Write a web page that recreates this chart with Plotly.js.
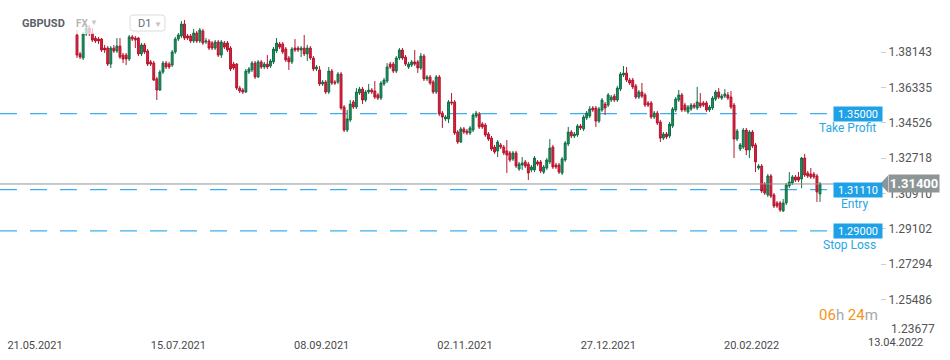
<!DOCTYPE html>
<html>
<head>
<meta charset="utf-8">
<script src="https://cdn.plot.ly/plotly-3.0.1.min.js"></script>
<style>html,body{margin:0;padding:0;background:#fff;}#chart{width:950px;height:360px;}</style>
</head>
<body>
<div id="chart"></div>
<script>
// GBPUSD D1 candles
const open = [1.3903,1.3806,1.3785,1.3908,1.3939,1.3913,1.3887,1.3882,1.3882,1.3836,1.3836,1.3754,1.3836,1.3821,1.3846,1.3800,1.3800,1.3780,1.3893,1.3887,
1.3887,1.3806,1.3852,1.3821,1.3765,1.3759,1.3678,1.3621,1.3713,1.3759,1.3754,1.3749,1.3816,1.3882,1.3898,1.3959,1.3898,1.3898,1.3872,1.3913,
1.3872,1.3923,1.3867,1.3872,1.3862,1.3836,1.3867,1.3800,1.3862,1.3862,1.3836,1.3754,1.3754,1.3631,1.3621,1.3611,1.3713,1.3724,1.3759,1.3688,
1.3765,1.3739,1.3754,1.3744,1.3765,1.3821,1.3857,1.3857,1.3831,1.3785,1.3765,1.3836,1.3836,1.3826,1.3836,1.3806,1.3836,1.3785,1.3729,1.3724,
1.3652,1.3662,1.3611,1.3718,1.3662,1.3662,1.3703,1.3534,1.3416,1.3468,1.3560,1.3534,1.3606,1.3626,1.3570,1.3611,1.3621,1.3616,1.3596,1.3580,
1.3652,1.3667,1.3754,1.3754,1.3718,1.3785,1.3826,1.3790,1.3739,1.3749,1.3765,1.3765,1.3734,1.3795,1.3678,1.3688,1.3662,1.3611,1.3688,1.3503,
1.3473,1.3473,1.3560,1.3560,1.3406,1.3355,1.3422,1.3411,1.3401,1.3416,1.3488,1.3498,1.3447,1.3442,1.3396,1.3375,1.3329,1.3309,1.3340,1.3329,
1.3309,1.3299,1.3268,1.3299,1.3217,1.3237,1.3253,1.3242,1.3212,1.3212,1.3253,1.3253,1.3201,1.3222,1.3253,1.3329,1.3237,1.3237,1.3196,1.3263,
1.3345,1.3406,1.3386,1.3391,1.3437,1.3422,1.3478,1.3488,1.3529,1.3529,1.3462,1.3519,1.3549,1.3544,1.3570,1.3590,1.3570,1.3626,1.3698,1.3708,
1.3672,1.3672,1.3642,1.3585,1.3611,1.3596,1.3555,1.3555,1.3483,1.3503,1.3457,1.3375,1.3396,1.3386,1.3437,1.3519,1.3570,1.3596,1.3544,1.3509,
1.3524,1.3544,1.3529,1.3555,1.3555,1.3555,1.3519,1.3529,1.3575,1.3611,1.3580,1.3590,1.3596,1.3585,1.3544,1.3370,1.3319,1.3329,1.3416,1.3314,
1.3406,1.3340,1.3222,1.3232,1.3140,1.3084,1.3181,1.3084,1.3043,1.3043,1.3002,1.3043,1.3130,1.3145,1.3176,1.3176,1.3166,1.3273,1.3196,1.3191,
1.3191,1.3181,1.3089];
const high = [1.3928,1.3816,1.3918,1.3959,1.3954,1.3939,1.3898,1.3893,1.3887,1.3852,1.3846,1.3846,1.3852,1.3887,1.3887,1.3811,1.3811,1.3903,1.3903,1.3898,
1.3893,1.3862,1.3862,1.3831,1.3775,1.3770,1.3688,1.3724,1.3770,1.3770,1.3765,1.3826,1.3893,1.3913,1.3974,1.3980,1.3908,1.3908,1.3934,1.3923,
1.3939,1.3934,1.3887,1.3882,1.3872,1.3877,1.3877,1.3877,1.3872,1.3872,1.3846,1.3765,1.3759,1.3642,1.3631,1.3729,1.3739,1.3770,1.3770,1.3775,
1.3775,1.3765,1.3800,1.3780,1.3841,1.3887,1.3867,1.3867,1.3841,1.3795,1.3841,1.3882,1.3846,1.3846,1.3903,1.3852,1.3846,1.3795,1.3749,1.3744,
1.3672,1.3672,1.3739,1.3729,1.3672,1.3713,1.3713,1.3544,1.3519,1.3570,1.3570,1.3631,1.3637,1.3637,1.3621,1.3652,1.3631,1.3667,1.3606,1.3667,
1.3683,1.3759,1.3765,1.3765,1.3795,1.3836,1.3836,1.3800,1.3765,1.3775,1.3826,1.3775,1.3811,1.3806,1.3698,1.3698,1.3672,1.3698,1.3698,1.3514,
1.3493,1.3570,1.3606,1.3570,1.3416,1.3432,1.3432,1.3422,1.3437,1.3503,1.3514,1.3509,1.3457,1.3452,1.3406,1.3386,1.3340,1.3365,1.3350,1.3340,
1.3365,1.3309,1.3309,1.3309,1.3253,1.3278,1.3263,1.3253,1.3237,1.3283,1.3263,1.3263,1.3237,1.3273,1.3370,1.3340,1.3248,1.3248,1.3278,1.3360,
1.3432,1.3416,1.3406,1.3447,1.3447,1.3493,1.3514,1.3539,1.3539,1.3539,1.3534,1.3580,1.3560,1.3606,1.3596,1.3601,1.3642,1.3713,1.3744,1.3739,
1.3683,1.3683,1.3652,1.3621,1.3657,1.3606,1.3565,1.3565,1.3514,1.3514,1.3468,1.3406,1.3406,1.3457,1.3534,1.3585,1.3621,1.3606,1.3555,1.3544,
1.3555,1.3555,1.3637,1.3606,1.3565,1.3565,1.3544,1.3590,1.3621,1.3631,1.3601,1.3626,1.3611,1.3616,1.3555,1.3422,1.3350,1.3427,1.3427,1.3416,
1.3416,1.3350,1.3242,1.3242,1.3150,1.3191,1.3191,1.3094,1.3053,1.3053,1.3063,1.3145,1.3201,1.3186,1.3186,1.3201,1.3278,1.3294,1.3207,1.3222,
1.3201,1.3191,1.3150];
const low = [1.3785,1.3780,1.3775,1.3898,1.3898,1.3867,1.3862,1.3857,1.3816,1.3811,1.3744,1.3734,1.3811,1.3811,1.3780,1.3759,1.3749,1.3770,1.3872,1.3836,
1.3795,1.3795,1.3806,1.3744,1.3744,1.3667,1.3570,1.3616,1.3703,1.3729,1.3729,1.3739,1.3806,1.3872,1.3887,1.3877,1.3877,1.3862,1.3862,1.3862,
1.3862,1.3852,1.3857,1.3826,1.3826,1.3826,1.3790,1.3785,1.3831,1.3816,1.3718,1.3724,1.3621,1.3606,1.3601,1.3606,1.3703,1.3713,1.3678,1.3683,
1.3729,1.3729,1.3729,1.3734,1.3754,1.3811,1.3831,1.3806,1.3765,1.3724,1.3754,1.3816,1.3816,1.3790,1.3795,1.3770,1.3775,1.3718,1.3718,1.3642,
1.3642,1.3601,1.3601,1.3647,1.3647,1.3652,1.3519,1.3406,1.3406,1.3457,1.3524,1.3524,1.3596,1.3549,1.3560,1.3601,1.3601,1.3575,1.3570,1.3570,
1.3642,1.3657,1.3729,1.3708,1.3708,1.3775,1.3775,1.3744,1.3729,1.3739,1.3744,1.3708,1.3724,1.3667,1.3667,1.3647,1.3601,1.3601,1.3488,1.3427,
1.3462,1.3452,1.3544,1.3391,1.3345,1.3350,1.3396,1.3391,1.3391,1.3406,1.3478,1.3422,1.3422,1.3381,1.3360,1.3309,1.3294,1.3278,1.3319,1.3288,
1.3196,1.3253,1.3258,1.3222,1.3207,1.3212,1.3222,1.3160,1.3201,1.3201,1.3232,1.3196,1.3191,1.3212,1.3242,1.3217,1.3217,1.3191,1.3186,1.3253,
1.3334,1.3375,1.3375,1.3381,1.3416,1.3411,1.3468,1.3478,1.3509,1.3432,1.3452,1.3509,1.3493,1.3534,1.3560,1.3560,1.3560,1.3616,1.3688,1.3662,
1.3647,1.3626,1.3575,1.3575,1.3580,1.3534,1.3534,1.3473,1.3473,1.3442,1.3355,1.3365,1.3370,1.3375,1.3427,1.3509,1.3560,1.3509,1.3509,1.3498,
1.3514,1.3524,1.3519,1.3529,1.3534,1.3509,1.3509,1.3519,1.3565,1.3575,1.3570,1.3580,1.3570,1.3524,1.3273,1.3360,1.3309,1.3319,1.3288,1.3273,
1.3324,1.3201,1.3212,1.3094,1.3084,1.3073,1.3068,1.3017,1.3017,1.2997,1.2997,1.3032,1.3119,1.3135,1.3150,1.3150,1.3119,1.3176,1.3171,1.3166,
1.3166,1.3048,1.3048];
const close = [1.3800,1.3790,1.3908,1.3939,1.3913,1.3877,1.3872,1.3872,1.3826,1.3826,1.3754,1.3836,1.3821,1.3846,1.3790,1.3780,1.3780,1.3893,1.3882,1.3877,
1.3806,1.3852,1.3816,1.3754,1.3754,1.3672,1.3621,1.3713,1.3759,1.3739,1.3739,1.3816,1.3882,1.3903,1.3959,1.3887,1.3887,1.3872,1.3913,1.3872,
1.3928,1.3862,1.3872,1.3836,1.3836,1.3867,1.3800,1.3867,1.3841,1.3826,1.3729,1.3734,1.3631,1.3616,1.3611,1.3718,1.3729,1.3759,1.3688,1.3765,
1.3739,1.3754,1.3739,1.3770,1.3831,1.3862,1.3841,1.3816,1.3775,1.3765,1.3831,1.3826,1.3826,1.3836,1.3806,1.3836,1.3785,1.3729,1.3739,1.3652,
1.3662,1.3611,1.3718,1.3657,1.3657,1.3703,1.3529,1.3416,1.3473,1.3549,1.3534,1.3611,1.3626,1.3570,1.3611,1.3621,1.3611,1.3585,1.3580,1.3657,
1.3672,1.3739,1.3739,1.3718,1.3785,1.3826,1.3785,1.3754,1.3754,1.3765,1.3754,1.3734,1.3795,1.3678,1.3688,1.3657,1.3611,1.3688,1.3498,1.3483,
1.3483,1.3560,1.3555,1.3401,1.3355,1.3422,1.3406,1.3401,1.3427,1.3493,1.3503,1.3432,1.3432,1.3391,1.3370,1.3319,1.3304,1.3355,1.3329,1.3299,
1.3288,1.3263,1.3299,1.3232,1.3242,1.3248,1.3232,1.3196,1.3227,1.3273,1.3242,1.3207,1.3227,1.3263,1.3324,1.3227,1.3227,1.3201,1.3268,1.3350,
1.3406,1.3386,1.3396,1.3437,1.3427,1.3483,1.3503,1.3524,1.3519,1.3462,1.3524,1.3570,1.3529,1.3596,1.3585,1.3570,1.3631,1.3703,1.3708,1.3672,
1.3657,1.3637,1.3585,1.3611,1.3590,1.3544,1.3544,1.3483,1.3503,1.3452,1.3375,1.3396,1.3381,1.3447,1.3524,1.3575,1.3596,1.3519,1.3519,1.3534,
1.3544,1.3534,1.3560,1.3539,1.3544,1.3519,1.3534,1.3580,1.3611,1.3585,1.3590,1.3601,1.3580,1.3534,1.3370,1.3411,1.3340,1.3416,1.3314,1.3406,
1.3334,1.3253,1.3232,1.3104,1.3094,1.3181,1.3078,1.3027,1.3027,1.3007,1.3043,1.3135,1.3150,1.3176,1.3160,1.3160,1.3273,1.3186,1.3181,1.3176,
1.3176,1.3099,1.3140];

const dateLabels = ['21.05.2021','15.07.2021','08.09.2021','02.11.2021','27.12.2021','20.02.2022'];
const lastDateLabel = '13.04.2022';
const priceTicks = [1.25486,1.27294,1.29102,1.30910,1.32718,1.34526,1.36335,1.38143];
const bottomPriceLabel = 1.23677;
const takeProfit = 1.35000;
const entry = 1.31110;
const stopLoss = 1.29000;
const lastPrice = 1.31400;
const symbol = 'GBPUSD';
const timerParts = ['06','h ','24','m'];

// ---- layout helpers (pixel -> paper for decorations) ----
const W = 950, H = 360, M = {l:0, r:70, t:0, b:23};
const PW = W - M.l - M.r, PH = H - M.t - M.b;
const px = v => (v - M.l) / PW;
const py = v => (PH - (v - M.t)) / PH;

const xIdx = open.map((_, i) => i);
const blue = '#1ea1e6';
const font = 'Roboto, "Open Sans", sans-serif';

const trace = {
  type: 'candlestick',
  x: xIdx, open, high, low, close,
  increasing: {line: {color: '#0f6f47', width: 1}, fillcolor: '#1b9160'},
  decreasing: {line: {color: '#b5162e', width: 1}, fillcolor: '#d9213d'},
  whiskerwidth: 0,
  hoverinfo: 'skip'
};

const dashLine = y => ({type:'line', xref:'paper', yref:'y', x0:0, x1:px(829), y0:y, y1:y,
  line:{color:'#3cb0ee', width:1.3, dash:'17px,13px'}, layer:'below'});

const shapes = [
  dashLine(takeProfit), dashLine(entry), dashLine(stopLoss),
  {type:'line', xref:'paper', yref:'y', x0:0, x1:1, y0:lastPrice, y1:lastPrice,
   line:{color:'#8d9597', width:1}, layer:'above'},
  // price tag arrow
  {type:'path', xref:'paper', yref:'y', xsizemode:'pixel', ysizemode:'pixel', xanchor:1, yanchor:lastPrice,
   path:'M 0 0 L 8 8.5 L 8 -8.5 Z', fillcolor:'#8d9597', line:{width:0}, layer:'above'},
  // fade over header
  {type:'rect', xref:'paper', yref:'paper', x0:px(70), x1:px(102), y0:py(34), y1:py(12),
   fillcolor:'rgba(255,255,255,0.72)', line:{width:0}, layer:'above'},
  // D1 box
  {type:'path', xref:'paper', yref:'paper', xsizemode:'pixel', ysizemode:'pixel', xanchor:0, yanchor:1,
   path:'M 133 -15 L 162 -15 Q 165 -15 165 -18 L 165 -28 Q 165 -31 162 -31 L 133 -31 Q 130 -31 130 -28 L 130 -18 Q 130 -15 133 -15 Z',
   fillcolor:'#ffffff', line:{color:'#dcdcdc', width:1}, layer:'above'}
];

const box = (y, txt) => ({xref:'paper', yref:'y', x:px(857.5), y:y, text:txt, showarrow:false,
  bgcolor:blue, font:{family:font, size:11, color:'#ffffff'}, width:47, height:13, borderpad:0.5, xanchor:'center', yanchor:'middle'});
const tag = (y, txt, right) => ({xref:'paper', yref:'y', x:px(right), y:y, yshift:-14, text:txt, showarrow:false,
  font:{family:font, size:12, color:'#2aa6e2'}, xanchor:'right', yanchor:'middle'});

const annotations = [
  box(takeProfit, takeProfit.toFixed(5)), tag(takeProfit, 'Take Profit', 878),
  box(entry, entry.toFixed(5)), tag(entry, 'Entry', 871),
  box(stopLoss, stopLoss.toFixed(5)), tag(stopLoss, 'Stop Loss', 878),
  {xref:'paper', yref:'y', x:1, xshift:8, y:lastPrice, text:'<b>'+lastPrice.toFixed(5)+'</b>', showarrow:false,
   bgcolor:'#8d9597', font:{family:font, size:13, color:'#ffffff'}, xanchor:'left', yanchor:'middle', width:48, height:15, borderpad:1},
  {xref:'paper', yref:'paper', x:px(20), y:py(23), text:'<b>'+symbol+'</b>', showarrow:false, xanchor:'left', yanchor:'middle',
   font:{family:font, size:11, color:'#5b6166'}},
  {xref:'paper', yref:'paper', x:px(74), y:py(23), text:'<b>FX</b>', showarrow:false, xanchor:'left', yanchor:'middle',
   font:{family:font, size:10, color:'#b5b5b5'}},
  {xref:'paper', yref:'paper', x:px(94), y:py(22), text:'▼', showarrow:false, xanchor:'center', yanchor:'middle',
   font:{family:font, size:8, color:'#c8c8c8'}},
  {xref:'paper', yref:'paper', x:px(136), y:py(23), text:'D1', showarrow:false, xanchor:'left', yanchor:'middle',
   font:{family:font, size:11, color:'#666b70'}},
  {xref:'paper', yref:'paper', x:px(158), y:py(24), text:'▼', showarrow:false, xanchor:'center', yanchor:'middle',
   font:{family:font, size:8, color:'#c4c4c4'}},
  {xref:'paper', yref:'paper', x:1, y:py(315), showarrow:false, xanchor:'right', yanchor:'middle',
   text:'<span style="color:#f7941d">'+timerParts[0]+'</span><span style="color:#a8a8a8">'+timerParts[1]+'</span><span style="color:#f7941d">'+timerParts[2]+'</span><span style="color:#a8a8a8">'+timerParts[3]+'</span>',
   font:{family:font, size:15, color:'#a8a8a8'}},
  {xref:'paper', yref:'paper', x:1, xshift:9, y:py(329), text:bottomPriceLabel.toFixed(5), showarrow:false, xanchor:'left', yanchor:'middle',
   font:{family:font, size:12, color:'#555555'}},
  {xref:'paper', yref:'paper', x:px(895), y:py(342), text:lastDateLabel, showarrow:false, xanchor:'center', yanchor:'middle',
   font:{family:font, size:11, color:'#4a4a4a'}}
];

const firstTick = -13.68, tickStep = 46.68;
const layout = {
  width: W, height: H, margin: M,
  paper_bgcolor:'#ffffff', plot_bgcolor:'#ffffff',
  showlegend:false, boxgap:0.12,
  font:{family:font},
  xaxis:{range:[-25.08, 261.54], showgrid:false, zeroline:false, showline:false,
    rangeslider:{visible:false}, tickmode:'array',
    tickvals: dateLabels.map((_, k) => firstTick + k*tickStep), ticktext: dateLabels,
    ticks:'', tickfont:{family:font, size:11, color:'#4a4a4a'}, fixedrange:true},
  yaxis:{side:'right', range:[1.4082 - 0.000512*PH, 1.4082], showgrid:false, zeroline:false, showline:false,
    tickmode:'array', tickvals:priceTicks, ticktext:priceTicks.map(v => v.toFixed(5)),
    ticks:'outside', ticklen:5, tickcolor:'#cfcfcf', tickfont:{family:font, size:12, color:'#555555'}, fixedrange:true},
  shapes, annotations
};

Plotly.newPlot('chart', [trace], layout, {displayModeBar:false, staticPlot:true});
</script>
</body>
</html>
